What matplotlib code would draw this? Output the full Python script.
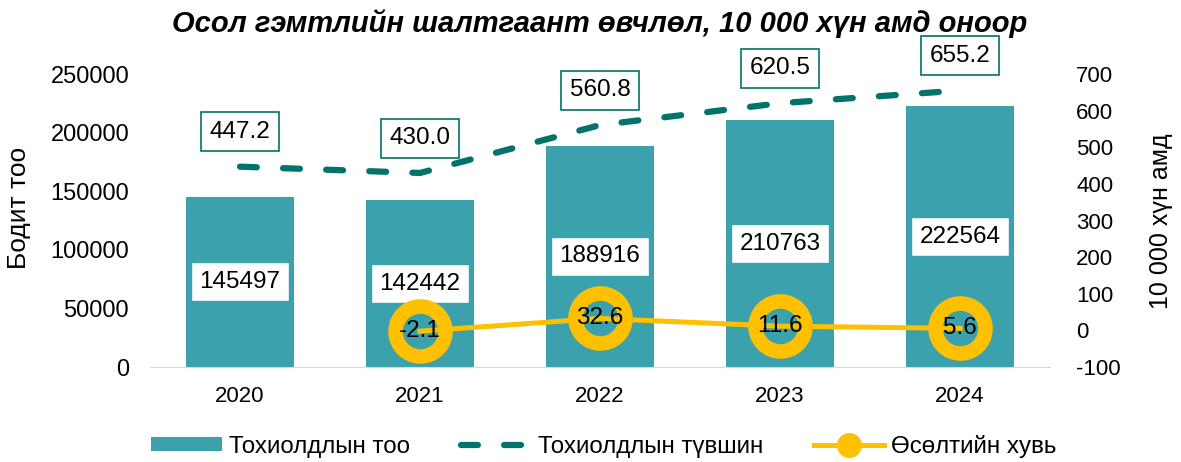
import numpy as np
import matplotlib.pyplot as plt

plt.rcParams['font.family'] = ['Liberation Sans', 'DejaVu Sans']
plt.rcParams['axes.unicode_minus'] = False

years = ['2020', '2021', '2022', '2023', '2024']
cases = [145497, 142442, 188916, 210763, 222564]
rate = [447.2, 430.0, 560.8, 620.5, 655.2]
growth_years = ['2021', '2022', '2023', '2024']
growth = [-2.1, 32.6, 11.6, 5.6]

bar_color = '#3aa1ad'
rate_color = '#00736a'
growth_color = '#ffc000'

fig = plt.figure(figsize=(11.81, 4.62), dpi=100)
ax = fig.add_axes([0.127, 0.2056, 0.762, 0.634])
ax2 = ax.twinx()

x = np.arange(len(years))
gx = np.array([years.index(y) for y in growth_years])

bars = ax.bar(x, cases, width=0.6, color=bar_color, label='Тохиолдлын тоо', zorder=1)
for xi, v in zip(x, cases):
    ax.text(xi, v / 2, str(v), ha='center', va='center', fontsize=17.5,
            bbox=dict(boxstyle='square,pad=0.35', fc='white', ec=bar_color, lw=1))

line_r, = ax2.plot(x, rate, color=rate_color, lw=4.5, ls=(0, (2.7, 4.2)),
                   dash_capstyle='round', label='Тохиолдлын түвшин')
for xi, v in zip(x, rate):
    ax2.annotate(f'{v:.1f}', (xi, v), xytext=(0, 25), textcoords='offset points',
                 ha='center', va='center', fontsize=17.5,
                 bbox=dict(boxstyle='square,pad=0.35', fc='white', ec=rate_color, lw=1.2))

line_g, = ax2.plot(gx, growth, color=growth_color, lw=3.6, marker='o', ms=36,
                   mfc='none', mec=growth_color, mew=10.5, label='Өсөлтийн хувь')
for xi, v in zip(gx, growth):
    ax2.text(xi, v, f'{v:.1f}', ha='center', va='center', fontsize=17.5)

ax.set_xlim(-0.5, 4.5)
ax.set_ylim(0, 250000)
ax2.set_ylim(-100, 700)
ax.set_yticks(np.arange(0, 250001, 50000))
ax2.set_yticks(np.arange(-100, 701, 100))
ax.set_xticks(x)
ax.set_xticklabels(years)

for a in (ax, ax2):
    for s in a.spines.values():
        s.set_visible(False)
    a.tick_params(length=0)
ax.spines['bottom'].set_visible(True)
ax.spines['bottom'].set_color('#d9d9d9')
ax.tick_params(axis='x', pad=14, labelsize=16)
ax.tick_params(axis='y', pad=15, labelsize=17)
ax2.tick_params(axis='y', pad=19, labelsize=16)

fig.text(19 / 1181, 1 - 208 / 462, 'Бодит тоо', rotation=90, ha='center', va='center', fontsize=19)
fig.text(1161 / 1181, 1 - 221 / 462, '10 000 хүн амд', rotation=90, ha='center', va='center', fontsize=18)

fig.text(600 / 1181, 0.95, 'Осол гэмтлийн шалтгаант өвчлөл, 10 000 хүн амд оноор',
         ha='center', va='center', fontsize=21, fontweight='bold', fontstyle='italic')

l1 = plt.Line2D([], [], color=growth_color, lw=3.6, marker='o', ms=17,
                mfc=growth_color, mec=growth_color)
l2 = plt.Line2D([], [], color=rate_color, lw=4.5, ls=(0, (2.7, 4.2)), dash_capstyle='round')
fig.legend([bars, l2, l1], ['Тохиолдлын тоо', 'Тохиолдлын түвшин', 'Өсөлтийн хувь'],
           loc='center', bbox_to_anchor=(604 / 1181, 1 - 446 / 462), ncol=3, frameon=False,
           fontsize=17.4, handlelength=2.9, handleheight=0.5, columnspacing=2.1,
           handletextpad=0.3)

fig.savefig('out.png', dpi=100)
